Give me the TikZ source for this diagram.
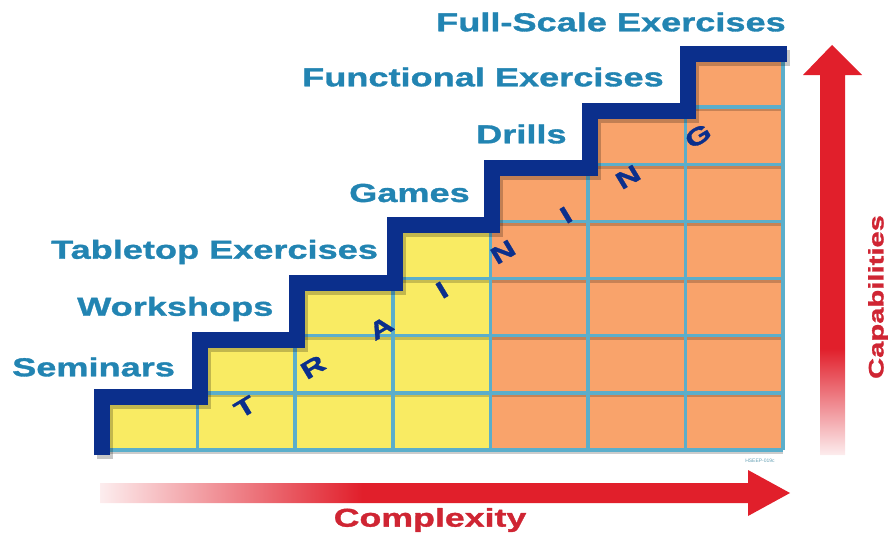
\documentclass[tikz,border=0pt]{standalone}
\usepackage{fontspec}
\setmainfont{Liberation Sans}
\newfontfamily\widefont{Liberation Sans}[FakeStretch=1.39, FakeBold=1.3]
\definecolor{stairblue}{HTML}{0B2F8C}
\definecolor{gridblue}{HTML}{5BAECB}
\definecolor{cellyellow}{HTML}{F9EB63}
\definecolor{cellorange}{HTML}{F9A36B}
\definecolor{labelblue}{HTML}{2284B2}
\definecolor{arrowred}{HTML}{E11F2B}
\definecolor{textred}{HTML}{CF2533}
\pgfdeclarehorizontalshading{complexfade}{100bp}{color(0bp)=(arrowred!8); color(25bp)=(arrowred!8); color(44bp)=(arrowred); color(100bp)=(arrowred)}
\pgfdeclareverticalshading{capfade}{100bp}{color(0bp)=(arrowred!8); color(25bp)=(arrowred!8); color(38bp)=(arrowred); color(100bp)=(arrowred)}
\tikzset{
  gridline/.style={gridblue, line width=3.5pt},
  gridshadow/.style={black, opacity=0.2, line width=2.5pt},
  stair/.style={stairblue, line width=16pt, line join=miter},
  stepname/.style={labelblue, anchor=west, inner sep=0pt, font=\widefont\bfseries\fontsize{26}{30}\selectfont},
  axisname/.style={textred, inner sep=0pt, font=\widefont\bfseries\fontsize{25.7}{30}\selectfont},
  trainletter/.style={stairblue, inner sep=0pt, rotate=31, font=\widefont\bfseries\fontsize{24}{28}\selectfont}
}
\begin{document}
\begin{tikzpicture}[x=1pt,y=-1pt, line join=round]
  \def\w{97.6} \def\h{57.14} % cell size
  \def\xo{100} \def\yo{450} % lower left corner of the grid
  \useasboundingbox (0,0) rectangle (888,535);
  % grid points
  \foreach \k in {0,...,7}{
    \foreach \j in {0,...,7}{
      \coordinate (c\k\j) at ({\xo+\k*\w},{\yo-\j*\h});
    }
  }
  % cells
  \fill[cellyellow] (c00) -- (c01) -- (c11) -- (c12) -- (c22) -- (c23) -- (c33) -- (c34) -- (c44) -- (c40) -- cycle;
  \fill[cellorange] (c40) -- (c45) -- (c55) -- (c56) -- (c66) -- (c67) -- (c77) -- (c70) -- cycle;
  % grid lines with their shadow
  \foreach \j in {0,...,6}
    \draw[gridshadow] ([yshift=-3pt]c\j\j) -- ([yshift=-3pt]c7\j);
  \foreach \j in {0,...,6}
    \draw[gridline] (c\j\j) -- (c7\j);
  \foreach \k in {1,...,6}
    \draw[gridline] (c\k0) -- (c\k\k);
  \draw[gridline] (c70) -- (c77);
  % staircase
  \def\stairpath{(102,455) -- ++(0,-58.1) \foreach \k in {1,...,6}{ -- ++(\w,0) -- ++(0,-\h)} -- ++(\w+2,0)}
  \draw[stair, black, opacity=0.22, xshift=3pt, yshift=-4pt] \stairpath;
  \draw[stair] \stairpath;
  % TRAINING
  \foreach \p/\l [count=\i] in {{(245,407)}/T,{(313,367)}/R,{(381,328)}/A,{(442,290)}/I,{(503,252)}/N,{(566,215)}/I,{(628,177)}/N,{(698,136)}/G}
    \node[trainletter] (letter\i) at \p {\l};
  % step names
  \node[stepname] (seminars) at (12,367) {Seminars};
  \node[stepname] (workshops) at (77,309) {Workshops};
  \node[stepname] (tabletop) at (51,252) {Tabletop Exercises};
  \node[stepname] (games) at (349,193) {Games};
  \node[stepname] (drills) at (476,134) {Drills};
  \node[stepname] (functional) at (302,77) {Functional Exercises};
  \node[stepname] (fullscale) at (436,22) {Full-Scale Exercises};
  \node[gridblue!70!gray, inner sep=0pt, font=\fontsize{5}{6}\selectfont] (code) at (760,461) {HSEEP-019c};
  % complexity arrow
  \shade[shading=complexfade] (100,483) -- (748,483) -- (748,470) -- (790,493) -- (748,516) -- (748,503) -- (100,503) -- cycle;
  \node[axisname] (complexity) at (430,520) {Complexity};
  % capabilities arrow
  \shade[shading=capfade] (820,455) -- (820,75) -- (803,75) -- (832,45) -- (862,75) -- (845,75) -- (845,455) -- cycle;
  \node[axisname, rotate=90, font=\widefont\bfseries\fontsize{21}{26}\selectfont] (capabilities) at (878,297) {Capabilities};
\end{tikzpicture}
\end{document}
